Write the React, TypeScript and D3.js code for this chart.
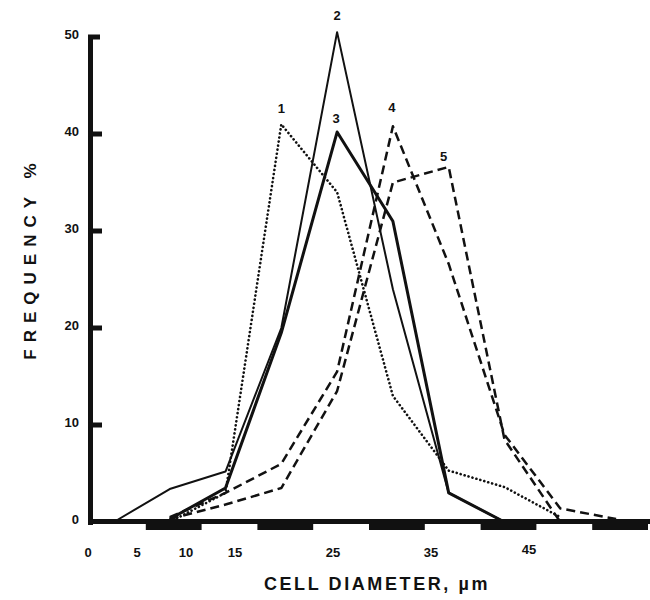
import * as d3 from 'd3';
import React, { useEffect, useRef } from 'react';

// bin midpoints (cell diameter, um)
const binMids = [2.5, 7.5, 12.5, 17.5, 22.5, 27.5, 32.5, 37.5, 42.5, 47.5];

// frequency % per bin, null = no point
const series1 = [null, 0, 3, 41, 34, 13, 5.3, 3.6, 0.5, null];
const series2 = [0, 3.4, 5.2, 20, 50.5, 24, 3, 0, null, null];
const series3 = [null, 0.3, 3.5, 19.5, 40.2, 31, 3, 0, null, null];
const series4 = [null, 0.5, 3, 6, 15.5, 40.8, 26.6, 9, 1.4, 0.3];
const series5 = [null, 0.3, 1.8, 3.5, 13.5, 35, 36.6, 8.5, 0, null];

const seriesNames = ['1', '2', '3', '4', '5'];
const yTicks = [0, 10, 20, 30, 40, 50];
const xTickLabels = [0, 5, 10, 15, 25, 35, 45];
const axisBlocks = [5, 15, 25, 35, 45];

const FONT = '"Liberation Sans", Arial, Helvetica, sans-serif';

function App() {
    const ref = useRef(null);

    useEffect(() => {
        const svg = d3.select(ref.current);
        svg.selectAll('*').remove();

        const x = d3.scaleLinear().domain([0, 50]).range([86, 644]);
        const y = d3.scaleLinear().domain([0, 50]).range([522, 37]);
        // the printed x labels sit on a slightly compressed scale
        const xLab = d3.scaleLinear().domain([0, 50]).range([88, 578]);

        const styles = [
            { data: series1, width: 2.6, dash: '0.1,4', cap: 'round', lab: [0, -11] },
            { data: series2, width: 2, dash: null, cap: 'butt', lab: [0, -12] },
            { data: series3, width: 3, dash: null, cap: 'butt', lab: [-1, -9] },
            { data: series4, width: 2.5, dash: '9,5', cap: 'butt', lab: [-1, -14] },
            { data: series5, width: 2.5, dash: '9,5', cap: 'butt', lab: [-5, -6] },
        ];

        const line = d3.line()
            .defined((d) => d[1] != null)
            .x((d) => x(d[0]))
            .y((d) => y(d[1]));

        const plot = svg.append('g');
        styles.forEach((s, i) => {
            const pts = binMids.map((m, j) => [m, s.data[j]]);
            plot.append('path')
                .attr('d', line(pts))
                .attr('fill', 'none')
                .attr('stroke', '#111')
                .attr('stroke-width', s.width)
                .attr('stroke-linejoin', 'round')
                .attr('stroke-linecap', s.cap)
                .attr('stroke-dasharray', s.dash);

            // number label above the peak
            const peak = d3.greatestIndex(s.data, (v) => (v == null ? -1 : v));
            plot.append('text')
                .attr('x', x(binMids[peak]) + s.lab[0])
                .attr('y', y(s.data[peak]) + s.lab[1])
                .attr('text-anchor', 'middle')
                .attr('font-family', FONT)
                .attr('font-weight', 'bold')
                .attr('font-size', 13)
                .attr('fill', '#111')
                .text(seriesNames[i]);
        });

        // x axis: thick base line with blocks every other 5 um
        const xAxis = svg.append('g');
        xAxis.append('rect')
            .attr('x', 88)
            .attr('y', y(0) - 3)
            .attr('width', 562)
            .attr('height', 5)
            .attr('fill', '#111');
        xAxis.selectAll('.block')
            .data(axisBlocks)
            .join('rect')
            .attr('class', 'block')
            .attr('x', (d) => x(d) + 4)
            .attr('y', y(0) - 3)
            .attr('width', x(5) - x(0))
            .attr('height', 11)
            .attr('fill', '#111');
        xAxis.selectAll('.tl')
            .data(xTickLabels)
            .join('text')
            .attr('class', 'tl')
            .attr('x', (d) => xLab(d))
            .attr('y', (d) => (d === 45 ? 554 : 557))
            .attr('text-anchor', 'middle')
            .attr('font-family', FONT)
            .attr('font-weight', 'bold')
            .attr('font-size', 13)
            .attr('fill', '#111')
            .text((d) => d);
        xAxis.append('text')
            .attr('x', 377)
            .attr('y', 590)
            .attr('text-anchor', 'middle')
            .attr('font-family', FONT)
            .attr('font-weight', 'bold')
            .attr('font-size', 18)
            .attr('letter-spacing', 2.6)
            .attr('fill', '#111')
            .text('CELL DIAMETER, \u00b5m');

        // y axis
        const yAxis = svg.append('g');
        yAxis.append('rect')
            .attr('x', 88)
            .attr('y', y(50) - 2)
            .attr('width', 5)
            .attr('height', y(0) - y(50) + 5)
            .attr('fill', '#111');
        yAxis.selectAll('.tick')
            .data(yTicks.filter((d) => d > 0))
            .join('rect')
            .attr('class', 'tick')
            .attr('x', 88)
            .attr('y', (d) => y(d) - 2.5)
            .attr('width', (d) => (d === 50 ? 12 : 14))
            .attr('height', 5)
            .attr('fill', '#111');
        yAxis.selectAll('.yl')
            .data(yTicks)
            .join('text')
            .attr('class', 'yl')
            .attr('x', 79)
            .attr('y', (d) => y(d) + 2)
            .attr('text-anchor', 'end')
            .attr('font-family', FONT)
            .attr('font-weight', 'bold')
            .attr('font-size', 13)
            .attr('fill', '#111')
            .text((d) => d);
        yAxis.append('text')
            .attr('transform', 'translate(36,258) rotate(-90)')
            .attr('text-anchor', 'middle')
            .attr('font-family', FONT)
            .attr('font-weight', 'bold')
            .attr('font-size', 17)
            .attr('letter-spacing', 7)
            .attr('fill', '#111')
            .text('FREQUENCY %');
    }, []);

    return (
        <svg
            ref={ref}
            width={650}
            height={600}
            style={{ position: 'absolute', left: 0, top: 0, background: '#fff' }}
        />
    );
}

export default App;
